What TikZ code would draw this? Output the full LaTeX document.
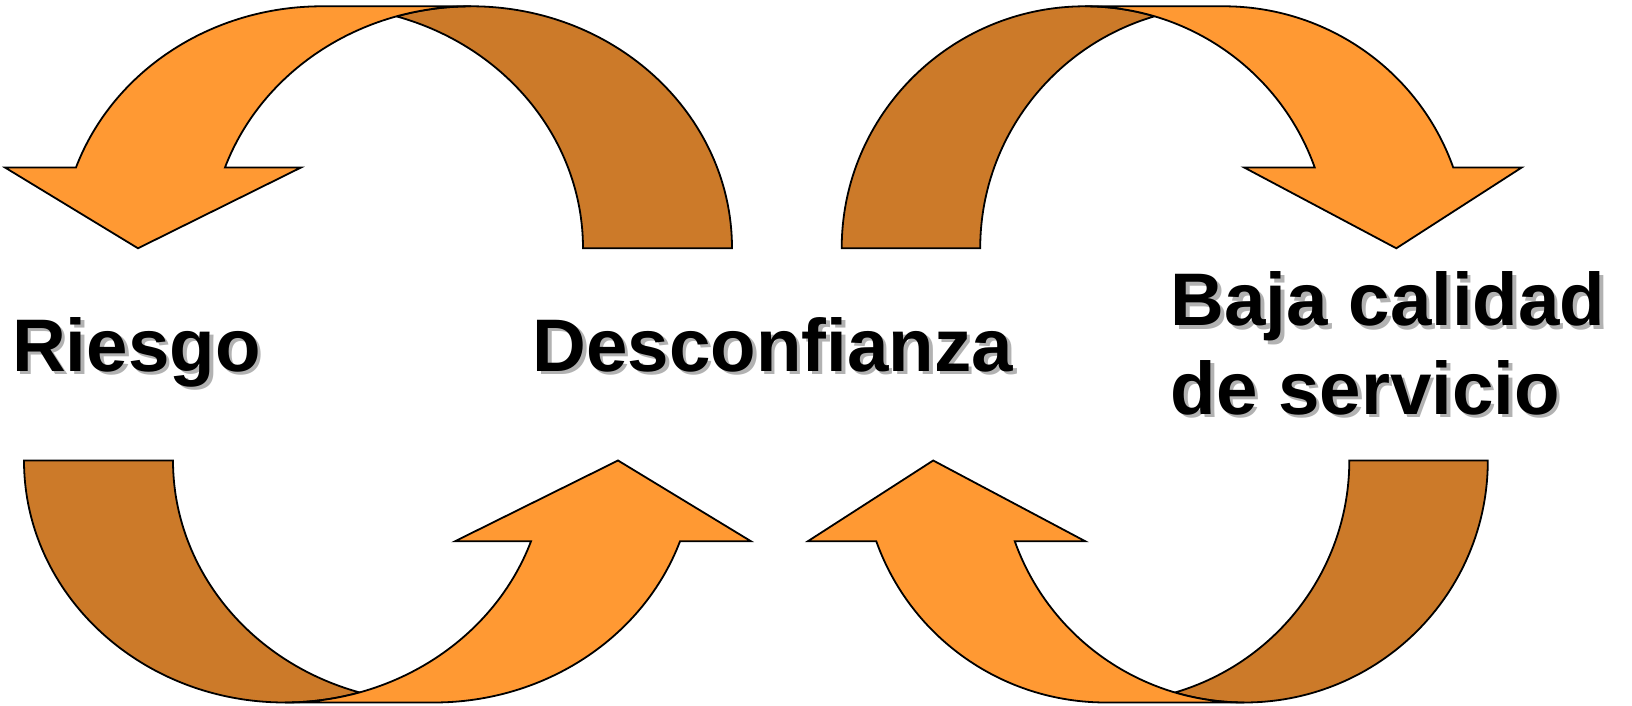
\documentclass[tikz,border=0pt]{standalone}
\usepackage{fontspec}
\setmainfont{Liberation Sans}
\definecolor{arrowfront}{RGB}{255,153,51}
\definecolor{arrowback}{RGB}{204,122,41}

\begin{document}
\begin{tikzpicture}
  [x=1pt,y=1pt,
   front/.style={fill=arrowfront,draw=black,line width=1.8pt},
   back/.style={fill=arrowback,draw=black,line width=1.8pt},
   lbl/.style={font=\fontsize{74.5}{88.4}\selectfont\bfseries,inner sep=0pt,anchor=base west,align=left},
   shade/.style={lbl,text=black!30}]
  \fill[white] (0,0) rectangle (1632,706);
  \useasboundingbox (0,0) rectangle (1632,706);

  % the four curved arrows: centre of front ellipse, flips, gap, x radius, barbs, tip
  \foreach \nm/\cx/\cy/\sx/\sy/\d/\rx/\bo/\bi/\tp in {
      tl/322/457.7/1/1/149/261/-317/-21/-184,
      tr/1223.7/457.7/-1/1/138.5/243.5/-298/-20.5/-172.6,
      bl/434/245.5/-1/-1/149/261/-317/-21/-184,
      br/1105.8/245.5/1/-1/138.5/243.5/-298/-20.5/-172.6}
  {
    \begin{scope}[shift={(\cx,\cy)},xscale=\sx,yscale=\sy]
      \pgfmathsetmacro\ti{acos(\d/(2*\rx))}
      \pgfmathsetmacro\tj{180-\ti}
      \pgfmathsetmacro\hy{242*sin(160.5)}
      \coordinate (\nm) at (0,0);
      \draw[back] (\d,242) arc[start angle=90,end angle=0,x radius=\rx pt,y radius=242pt]
        -- (\rx,0) arc[start angle=0,end angle=\ti,x radius=\rx pt,y radius=242pt]
        arc[start angle=\tj,end angle=90,x radius=\rx pt,y radius=242pt] -- cycle;
      \draw[front] (160.5:\rx pt and 242pt)
        arc[start angle=160.5,end angle=90,x radius=\rx pt,y radius=242pt]
        -- (\d,242) arc[start angle=90,end angle=160.5,x radius=\rx pt,y radius=242pt]
        -- (\bi,\hy) -- (\tp,0) -- (\bo,\hy) -- cycle;
    \end{scope}
  }

  % labels with their grey shadow
  \node[shade] at (15.5,331) {Riesgo};
  \node[lbl] (riesgo) at (12,334.4) {Riesgo};
  \node[shade] at (536,331) {Desconfianza};
  \node[lbl] (desconfianza) at (532.5,334.4) {Desconfianza};
  \node[shade] at (1174,288.4) {Baja calidad\\de servicio};
  \node[lbl] (calidad) at (1170.5,291.8) {Baja calidad\\de servicio};
\end{tikzpicture}
\end{document}
